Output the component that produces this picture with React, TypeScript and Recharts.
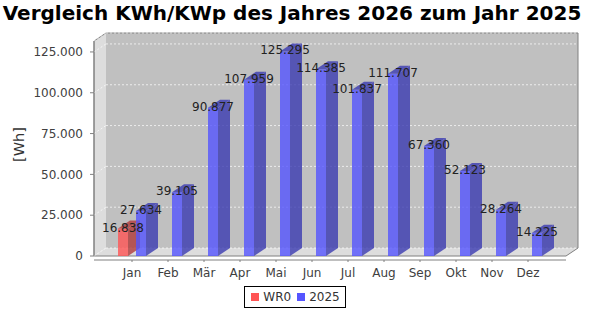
import React from 'react';
import { BarChart, Bar, XAxis, YAxis, CartesianGrid, LabelList, Legend } from 'recharts';

const months = ['Jan', 'Feb', 'Mär', 'Apr', 'Mai', 'Jun', 'Jul', 'Aug', 'Sep', 'Okt', 'Nov', 'Dez'];
const wr0Values = [16838, null, null, null, null, null, null, null, null, null, null, null];
const values2025 = [27634, 39105, 90877, 107959, 125295, 114385, 101837, 111707, 67360, 52123, 28264, 14225];
const yTicks = [0, 25000, 50000, 75000, 100000, 125000];
const seriesOrder = ['WR0', '2025'];

const W = 590;
const H = 310;
// front face of the 3d plot
const LEFT = 94;
const RIGHT = 566;
const TOP = 41;
const BOTTOM = 256;
// depth offset of walls and bars
const DX = 12;
const DY = 8;
const FONT = "'DejaVu Sans', sans-serif";

const data = months.map((m, i) => ({ month: m, wr0: wr0Values[i], y2025: values2025[i] }));

const fmt = (v: number) => String(v).replace(/\B(?=(\d{3})+(?!\d))/g, '.');

const Bar3D = (props: any) => {
  const { x, y, width, height, fill, side } = props;
  if (height == null || !(height > 0)) return null;
  const r = x + width;
  const b = y + height;
  return (
    <g opacity={0.8}>
      <rect x={x} y={y} width={width} height={height} fill={fill} />
      <polygon points={`${r},${y} ${r + DX},${y - DY} ${r + DX},${b - DY} ${r},${b}`} fill={side} />
      <polygon points={`${x},${y} ${x + DX},${y - DY} ${r + DX},${y - DY} ${r},${y}`} fill={side} />
    </g>
  );
};

const ValueLabel = (props: any) => {
  const { x, y, width, value } = props;
  if (value == null) return null;
  return (
    <text x={x + width / 2} y={y + 3} textAnchor="middle" fontFamily={FONT} fontSize={12} fill="#222">
      {fmt(value)}
    </text>
  );
};

const GridLine = (props: any) => {
  const { x1, y1, x2 } = props;
  return (
    <g key={props.key}>
      <line x1={x1} y1={y1} x2={x1 + DX} y2={y1 - DY} stroke="#fff" strokeOpacity={0.7} strokeDasharray="2 2" />
      <line x1={x1 + DX} y1={y1 - DY} x2={x2 + DX} y2={y1 - DY} stroke="#fff" strokeOpacity={0.7} strokeDasharray="2 2" />
    </g>
  );
};

const MonthTick = (props: any) => {
  const { x, payload } = props;
  return (
    <g>
      <line x1={x} x2={x} y1={BOTTOM + 4} y2={BOTTOM + 6} stroke="#808080" />
      <text x={x} y={276.5} textAnchor="middle" fontFamily={FONT} fontSize={12} fill="#404040">
        {payload.value}
      </text>
    </g>
  );
};

const LegendBox = (props: any) => {
  const payload = [...(props.payload || [])].sort(
    (a: any, b: any) => seriesOrder.indexOf(a.value) - seriesOrder.indexOf(b.value)
  );
  return (
    <div
      style={{
        display: 'inline-flex',
        alignItems: 'center',
        border: '1px solid #000',
        height: 20,
        padding: '0 5px 0 6px',
        fontFamily: FONT,
        fontSize: 12,
        color: '#333',
        background: '#fff',
      }}
    >
      {payload.map((p: any, i: number) => (
        <span key={p.value} style={{ display: 'inline-flex', alignItems: 'center', marginLeft: i ? 6 : 0 }}>
          <span style={{ width: 8, height: 8, background: p.color, marginRight: 4, display: 'inline-block' }} />
          {p.value}
        </span>
      ))}
    </div>
  );
};

export default function App() {
  return (
    <div style={{ position: 'relative', width: W, height: H, background: '#fff' }}>
      <style>{`body{margin:0}`}</style>
      <svg width={W} height={H} style={{ position: 'absolute', left: 0, top: 0 }}>
        <text x={292} y={20} textAnchor="middle" fontFamily={FONT} fontWeight="bold" fontSize={20} fill="#000">
          Vergleich KWh/KWp des Jahres 2026 zum Jahr 2025
        </text>
        <rect x={LEFT + DX} y={TOP - DY} width={RIGHT - LEFT} height={BOTTOM - TOP} fill="#c0c0c0" />
        <polygon
          points={`${LEFT},${TOP} ${LEFT + DX},${TOP - DY} ${LEFT + DX},${BOTTOM - DY} ${LEFT},${BOTTOM}`}
          fill="#dddddd"
        />
        <polygon
          points={`${LEFT},${BOTTOM} ${LEFT + DX},${BOTTOM - DY} ${RIGHT + DX},${BOTTOM - DY} ${RIGHT},${BOTTOM}`}
          fill="#dddddd"
        />
        <polygon
          points={`${LEFT},${TOP} ${LEFT + DX},${TOP - DY} ${RIGHT + DX},${TOP - DY} ${RIGHT + DX},${BOTTOM - DY} ${RIGHT},${BOTTOM} ${LEFT},${BOTTOM}`}
          fill="none"
          stroke="#808080"
        />
        <line x1={LEFT} y1={BOTTOM + 4} x2={RIGHT} y2={BOTTOM + 4} stroke="#808080" />
      </svg>
      <div style={{ position: 'absolute', left: 0, top: 0 }}>
        <BarChart
          width={W}
          height={H}
          data={data}
          margin={{ top: TOP, right: W - RIGHT, bottom: 0, left: 0 }}
          barSize={10}
          barGap={8}
        >
          <CartesianGrid horizontal={GridLine} vertical={false} />
          <XAxis
            dataKey="month"
            height={H - BOTTOM}
            padding={{ left: 20, right: 20 }}
            axisLine={false}
            tickLine={false}
            interval={0}
            tick={MonthTick}
          />
          <YAxis
            width={LEFT}
            domain={[0, 131700]}
            ticks={yTicks}
            tickFormatter={fmt}
            tickSize={4}
            tickMargin={7}
            axisLine={{ stroke: '#808080' }}
            tickLine={{ stroke: '#808080' }}
            tick={{ fill: '#404040', fontSize: 12, fontFamily: FONT }}
            label={{
              content: (p: any) => {
                const vb = p.viewBox || { y: TOP, height: BOTTOM - TOP };
                const cy = vb.y - DY + (vb.height + DY) / 2;
                return (
                  <text
                    x={19}
                    y={cy}
                    transform={`rotate(-90 19 ${cy})`}
                    textAnchor="middle"
                    dominantBaseline="central"
                    fontFamily={FONT}
                    fontSize={14.5}
                    fill="#333"
                  >
                    [Wh]
                  </text>
                );
              },
            }}
          />
          <Legend
            verticalAlign="middle"
            align="center"
            content={LegendBox}
            wrapperStyle={{ top: 286, left: 0, width: W, textAlign: 'center', lineHeight: 'normal' }}
          />
          <Bar
            dataKey="wr0"
            name="WR0"
            fill="#ff5555"
            isAnimationActive={false}
            shape={(p: any) => <Bar3D {...p} side="#b23b3b" />}
          >
            <LabelList dataKey="wr0" content={ValueLabel} />
          </Bar>
          <Bar
            dataKey="y2025"
            name="2025"
            fill="#5555ff"
            isAnimationActive={false}
            shape={(p: any) => <Bar3D {...p} side="#3b3bb2" />}
          >
            <LabelList dataKey="y2025" content={ValueLabel} />
          </Bar>
        </BarChart>
      </div>
    </div>
  );
}
